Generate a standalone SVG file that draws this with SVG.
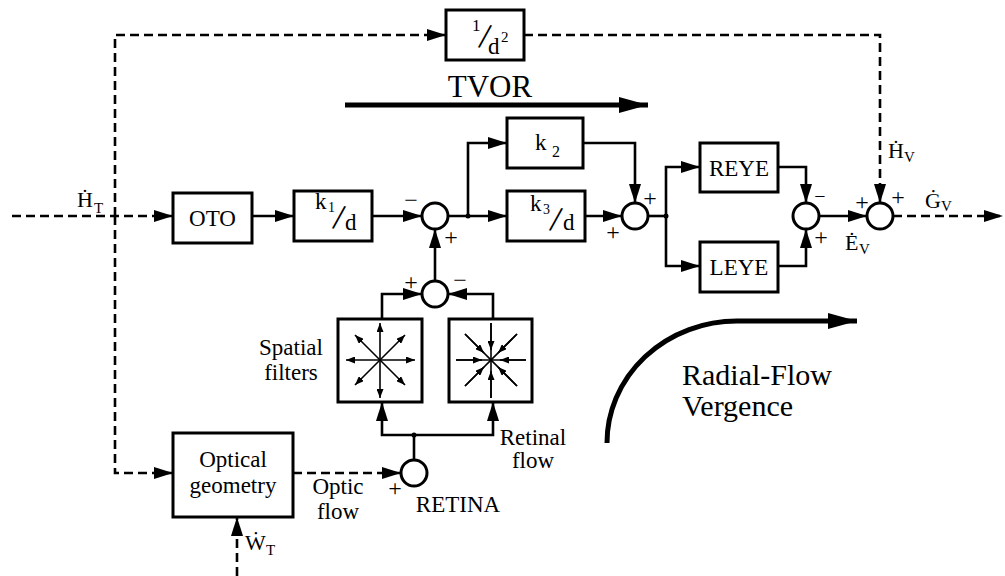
<svg xmlns="http://www.w3.org/2000/svg" width="1005" height="576" viewBox="0 0 1005 576" font-family="'Liberation Serif', 'Times New Roman', Times, 'DejaVu Serif', serif">
<style>
.box{fill:#fff;stroke:#000;stroke-width:3}
.sum{fill:#fff;stroke:#000;stroke-width:3}
.ln{fill:none;stroke:#000;stroke-width:2.6}
.dash{fill:none;stroke:#000;stroke-width:2.6;stroke-dasharray:9,5}
.thin{fill:none;stroke:#000;stroke-width:1.6}
text{font-family:'Liberation Serif','Times New Roman',Times,'DejaVu Serif',serif;fill:#000}
.lbl{font-size:23px;text-anchor:middle}
.sg{font-size:24px;text-anchor:middle}
.big{font-size:30px}
.sub{font-size:15px}
.sl{font-size:36px;text-anchor:middle}
</style>
<defs>
<marker id="ah" markerUnits="userSpaceOnUse" markerWidth="20" markerHeight="12" refX="19" refY="6" orient="auto">
<path d="M0,0 L19,6 L0,12 Z" fill="#000"/>
</marker>
<marker id="sa" markerUnits="userSpaceOnUse" markerWidth="9" markerHeight="7" refX="9" refY="3.5" orient="auto">
<path d="M0,0 L9,3.5 L0,7 Z" fill="#000"/>
</marker>
<marker id="big" markerUnits="userSpaceOnUse" markerWidth="30" markerHeight="16" refX="29" refY="8" orient="auto">
<path d="M0,0 L29,8 L0,16 Z" fill="#000"/>
</marker>
</defs>

<g id="connectors">
<path class="dash" d="M12,216 H173" marker-end="url(#ah)"/>
<path class="dash" d="M115,216 V35 H446" marker-end="url(#ah)"/>
<path class="dash" d="M115,216 V473 H173" marker-end="url(#ah)"/>
<path class="dash" d="M524,35 H880 V203" marker-end="url(#ah)"/>
<path class="ln" d="M252,216 H294" marker-end="url(#ah)"/>
<path class="ln" d="M372,216 H422" marker-end="url(#ah)"/>
<path class="ln" d="M448,216 H507" marker-end="url(#ah)"/>
<path class="ln" d="M468,216 V143 H507" marker-end="url(#ah)"/>
<circle cx="468" cy="216" r="2.5" fill="#000"/>
<path class="ln" d="M583,143 H635 V203" marker-end="url(#ah)"/>
<path class="ln" d="M585,216 H622" marker-end="url(#ah)"/>
<path class="ln" d="M648,216 H666"/>
<path class="ln" d="M666,216 V167 H700" marker-end="url(#ah)"/>
<path class="ln" d="M666,216 V266 H700" marker-end="url(#ah)"/>
<circle cx="666" cy="216" r="2.5" fill="#000"/>
<path class="ln" d="M778,167 H806 V203" marker-end="url(#ah)"/>
<path class="ln" d="M778,266 H806 V229" marker-end="url(#ah)"/>
<path class="ln" d="M819,216 H867" marker-end="url(#ah)"/>
<path class="dash" d="M893,216 H1003" marker-end="url(#ah)"/>
<path class="ln" d="M435,281 V229" marker-end="url(#ah)"/>
<path class="ln" d="M382,319 V294 H422" marker-end="url(#ah)"/>
<path class="ln" d="M493,319 V294 H448" marker-end="url(#ah)"/>
<path class="ln" d="M414,460 V435"/>
<path class="ln" d="M414,435 H382 V402" marker-end="url(#ah)"/>
<path class="ln" d="M414,435 H493 V402" marker-end="url(#ah)"/>
<circle cx="414" cy="435" r="2.5" fill="#000"/>
<path class="dash" d="M293,473 H401" marker-end="url(#ah)"/>
<path class="dash" d="M237,576 V517" marker-end="url(#ah)"/>
<path d="M345,105 H648" stroke="#000" stroke-width="5" fill="none" marker-end="url(#big)"/>
<path d="M607,443 A130,122 0 0 1 737,321 H857" stroke="#000" stroke-width="5" fill="none" marker-end="url(#big)"/>
</g>

<g id="inv_d2">
<rect class="box" x="446" y="10" width="78" height="50"/>
<text x="472" y="31" style="font-size:17px">1</text>
<text class="sl" x="485" y="48" transform="rotate(10 485 36)">/</text>
<text x="488" y="54" style="font-size:23px">d</text>
<text x="501" y="42" style="font-size:15px">2</text>
</g>

<g id="oto">
<rect class="box" x="173" y="193" width="79" height="50"/>
<text class="lbl" x="212.5" y="226">OTO</text>
</g>

<g id="k1d">
<rect class="box" x="294" y="191" width="78" height="50"/>
<text x="315" y="209" style="font-size:23px">k</text>
<text x="328" y="212" style="font-size:14px">1</text>
<text class="sl" x="339" y="229" transform="rotate(10 339 217)">/</text>
<text x="345" y="230" style="font-size:23px">d</text>
</g>

<g id="k2">
<rect class="box" x="507" y="118" width="76" height="50"/>
<text x="535" y="150" style="font-size:23px">k</text>
<text x="552" y="157" style="font-size:16px">2</text>
</g>

<g id="k3d">
<rect class="box" x="507" y="191" width="78" height="50"/>
<text x="530" y="211" style="font-size:23px">k</text>
<text x="543" y="214" style="font-size:14px">3</text>
<text class="sl" x="556" y="231" transform="rotate(10 556 219)">/</text>
<text x="563" y="230" style="font-size:23px">d</text>
</g>

<g id="reye">
<rect class="box" x="700" y="143" width="78" height="49"/>
<text class="lbl" x="739" y="176">REYE</text>
</g>

<g id="leye">
<rect class="box" x="700" y="242" width="78" height="50"/>
<text class="lbl" x="739" y="275">LEYE</text>
</g>

<g id="sum1">
<circle class="sum" cx="435" cy="216" r="13"/>
<text class="sg" x="411" y="208">−</text>
<text class="sg" x="451" y="245">+</text>
</g>

<g id="sum2">
<circle class="sum" cx="635" cy="216" r="13"/>
<text class="sg" x="650" y="206">+</text>
<text class="sg" x="613" y="240">+</text>
</g>

<g id="sum3">
<circle class="sum" cx="806" cy="216" r="13"/>
<text class="sg" x="820" y="203" style="font-size:20px">−</text>
<text class="sg" x="821" y="245">+</text>
</g>

<g id="sum4">
<circle class="sum" cx="880" cy="216" r="13"/>
<text class="sg" x="862" y="210">+</text>
<text class="sg" x="898" y="205">+</text>
</g>

<g id="sum5">
<circle class="sum" cx="435" cy="294" r="13"/>
<text class="sg" x="411" y="290">+</text>
<text class="sg" x="460" y="288">−</text>
</g>

<g id="retina">
<circle class="sum" cx="414" cy="473" r="13"/>
<text class="sg" x="395" y="496">+</text>
<text class="lbl" x="458" y="512">RETINA</text>
</g>

<g id="filter_out">
<rect class="box" x="338" y="319" width="84" height="83"/>
<g class="thin">
<path d="M380,360 H346" marker-end="url(#sa)"/>
<path d="M380,360 H415" marker-end="url(#sa)"/>
<path d="M380,360 V323" marker-end="url(#sa)"/>
<path d="M380,360 V398" marker-end="url(#sa)"/>
<path d="M380,360 L355,335" marker-end="url(#sa)"/>
<path d="M380,360 L405,335" marker-end="url(#sa)"/>
<path d="M380,360 L355,385" marker-end="url(#sa)"/>
<path d="M380,360 L405,385" marker-end="url(#sa)"/>
</g>
</g>

<g id="filter_in">
<rect class="box" x="449" y="319" width="83" height="83"/>
<g class="thin">
<path d="M456,360 H526"/>
<path d="M491,323 V398"/>
<path d="M465,334 L517,386"/>
<path d="M517,334 L465,386"/>
<path d="M456,360 H482" marker-end="url(#sa)"/>
<path d="M526,360 H500" marker-end="url(#sa)"/>
<path d="M491,323 V350" marker-end="url(#sa)"/>
<path d="M491,398 V371" marker-end="url(#sa)"/>
<path d="M465,334 L484,353" marker-end="url(#sa)"/>
<path d="M517,334 L498,353" marker-end="url(#sa)"/>
<path d="M465,386 L484,367" marker-end="url(#sa)"/>
<path d="M517,386 L498,367" marker-end="url(#sa)"/>
</g>
</g>

<g id="optical">
<rect class="box" x="173" y="433" width="120" height="84"/>
<text class="lbl" x="233" y="467">Optical</text>
<text class="lbl" x="233" y="493">geometry</text>
</g>

<g id="labels">
<text class="big" x="490" y="97" text-anchor="middle" style="font-size:31px">TVOR</text>
<text class="big" x="682" y="385">Radial-Flow</text>
<text class="big" x="682" y="416">Vergence</text>
<text class="lbl" x="291" y="355">Spatial</text>
<text class="lbl" x="291" y="380">filters</text>
<text class="lbl" x="533" y="445">Retinal</text>
<text class="lbl" x="533" y="468">flow</text>
<text class="lbl" x="338" y="494">Optic</text>
<text class="lbl" x="338" y="519">flow</text>
<text x="77" y="207" style="font-size:22px">Ḣ</text><text class="sub" x="94" y="213">T</text>
<text x="888" y="158" style="font-size:22px">Ḣ</text><text class="sub" x="904" y="162">V</text>
<text x="845" y="250" style="font-size:22px">Ė</text><text class="sub" x="859" y="254">V</text>
<text x="925" y="208" style="font-size:22px">Ġ</text><text class="sub" x="941" y="211">V</text>
<text x="245" y="550" style="font-size:22px">Ẇ</text><text class="sub" x="266" y="555">T</text>
</g>
</svg>
